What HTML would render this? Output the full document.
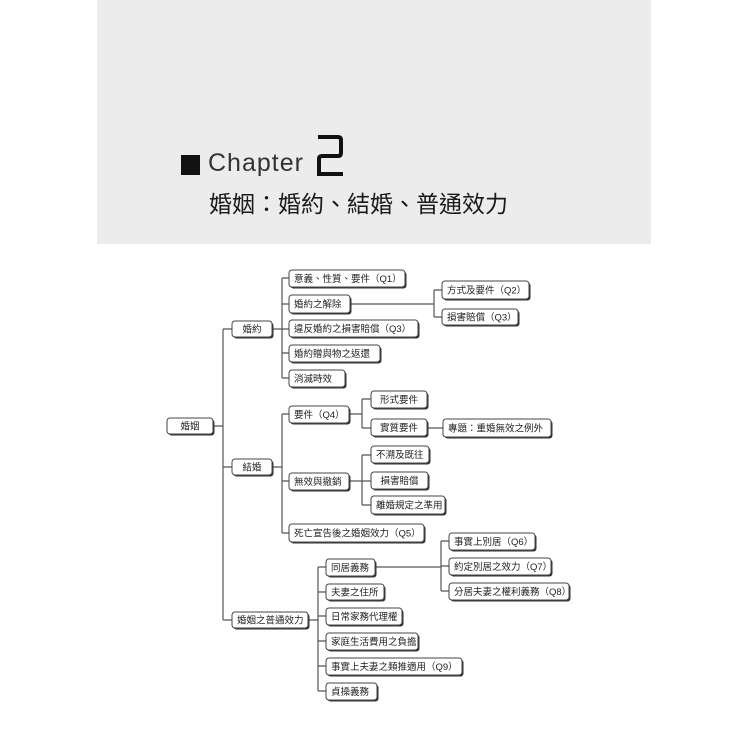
<!DOCTYPE html>
<html><head><meta charset="utf-8"><style>
html,body{margin:0;padding:0;background:#fff;}
body{width:750px;height:750px;position:relative;overflow:hidden;font-family:"Liberation Sans","Noto Sans CJK TC",sans-serif;}
.hdr{position:absolute;left:97px;top:0;width:554px;height:244px;background:#ececec;}
.sq{position:absolute;left:181px;top:155px;width:19px;height:20px;background:#111;}
.ch{position:absolute;left:208px;top:148px;font-size:25px;line-height:30px;color:#333;letter-spacing:1px;font-family:"Liberation Sans",sans-serif;}
.sub{position:absolute;left:209px;top:189px;font-size:23px;line-height:30px;color:#1a1a1a;font-family:"Liberation Sans","Noto Sans CJK TC",sans-serif;white-space:nowrap;}
svg{position:absolute;left:0;top:0;}
svg text{font-family:"Liberation Sans","Noto Sans CJK TC",sans-serif;font-size:9.5px;fill:#222;}
</style></head><body>
<div class="hdr"></div>
<div class="sq"></div>
<div class="ch">Chapter</div>
<svg width="30" height="44" viewBox="0 0 30 44" style="left:316px;top:134px;"><path d="M2 3 H22 Q25 3 25 6 V19 Q25 22 22 22 H6 Q3 22 3 25 V40 H27" fill="none" stroke="#111" stroke-width="4"/></svg>
<div class="sub">婚姻：婚約、結婚、普通效力</div>
<svg width="750" height="750" viewBox="0 0 750 750">
<g stroke="#555" stroke-width="1.2" fill="none">
<path d="M213 426H223M223 329V620M223 329H232M223 467H232M223 620H232"/>
<path d="M272 329H282M282 278V378M282 278H289M282 304H289M282 329H289M282 353H289M282 378H289"/>
<path d="M350 304H434M434 290V317M434 290H442M434 317H442"/>
<path d="M272 467H282M282 414V533M282 414H289M282 481H289M282 533H289"/>
<path d="M349 414H362M362 399V428M362 399H371M362 428H371M427 428H443"/>
<path d="M349 481H362M362 455V505M362 455H371M362 481H371M362 505H371"/>
<path d="M308 620H318M318 567V691M318 567H326M318 592H326M318 616H326M318 641H326M318 666H326M318 691H326"/>
<path d="M375 567H441M441 541V591M441 541H449M441 566H449M441 591H449"/>
</g>
<g id="boxes"></g>
</svg>
<script>
var B=[
[167,418,213,434,"婚姻",1],
[232,321,272,337,"婚約",1],[232,459,272,475,"結婚",1],[232,612,308,628,"婚姻之普通效力",0],
[289,270,405,287,"意義、性質、要件（Q1）"],[289,295,350,313,"婚約之解除"],[289,320,418,337,"違反婚約之損害賠償（Q3）"],
[289,345,380,362,"婚約贈與物之返還"],[289,370,345,387,"消滅時效"],
[442,281,529,299,"方式及要件（Q2）"],[442,309,518,325,"損害賠償（Q3）"],
[289,406,349,423,"要件（Q4）"],[371,391,427,408,"形式要件",1],[371,419,427,436,"實質要件",1],[443,419,551,437,"專題：重婚無效之例外"],
[289,473,349,490,"無效與撤銷"],[371,446,429,463,"不溯及既往"],[371,472,428,489,"損害賠償",1],[371,496,445,514,"離婚規定之準用"],
[289,524,424,542,"死亡宣告後之婚姻效力（Q5）"],
[449,533,535,550,"事實上別居（Q6）"],[449,558,551,575,"約定別居之效力（Q7）"],[449,583,569,600,"分居夫妻之權利義務（Q8）"],
[326,559,375,576,"同居義務"],[326,584,384,600,"夫妻之住所"],[326,608,402,625,"日常家務代理權"],
[326,633,418,650,"家庭生活費用之負擔"],[326,658,462,675,"事實上夫妻之類推適用（Q9）"],[326,683,377,700,"貞操義務"]
];
var g=document.getElementById("boxes"),s="";
B.forEach(function(b){var w=b[2]-b[0],h=b[3]-b[1];
s+='<rect x="'+(b[0]+1.5)+'" y="'+(b[1]+1.5)+'" width="'+w+'" height="'+h+'" rx="3" fill="#333"/>';
s+='<rect x="'+b[0]+'" y="'+b[1]+'" width="'+w+'" height="'+h+'" rx="3" fill="#fff" stroke="#444" stroke-width="1"/>';
var cy=b[1]+h/2+3.4;
if(b[5]) s+='<text x="'+(b[0]+w/2)+'" y="'+cy+'" text-anchor="middle">'+b[4]+'</text>';
else s+='<text x="'+(b[0]+5)+'" y="'+cy+'">'+b[4]+'</text>';});
g.innerHTML=s;
</script>
</body></html>
